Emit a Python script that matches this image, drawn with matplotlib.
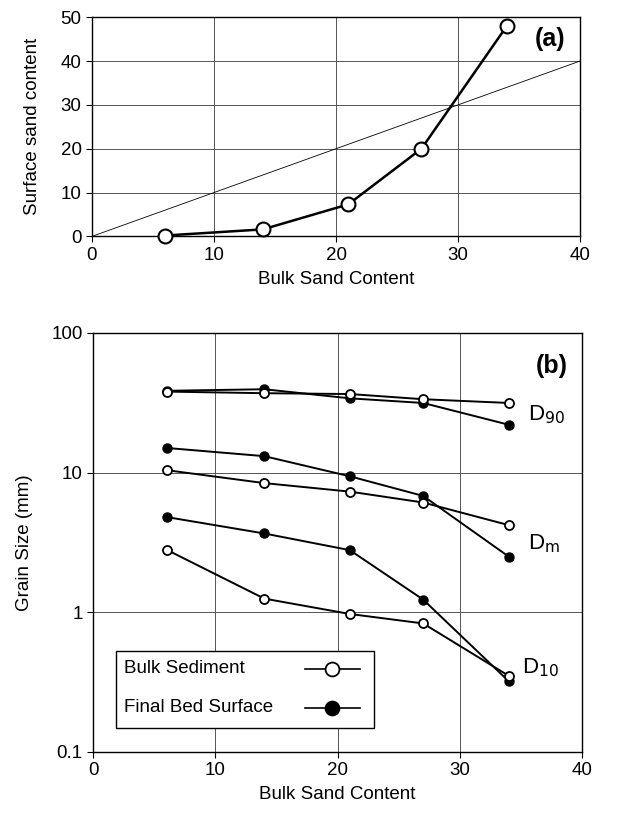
import numpy as np
import matplotlib
matplotlib.use('Agg')
import matplotlib.pyplot as plt
from matplotlib.patches import Rectangle

plt.rcParams['font.family'] = ['Liberation Sans', 'DejaVu Sans']
plt.rcParams['font.size'] = 13.5

# data
bulk_sand = [6, 14, 21, 27, 34]
surface_sand = [0.2, 1.6, 7.3, 20, 48]

d90_bulk = [38.0, 37.0, 36.5, 33.5, 31.5]
d90_surf = [38.5, 39.5, 34.0, 31.5, 22.0]
dm_bulk = [10.4, 8.4, 7.3, 6.1, 4.2]
dm_surf = [15.0, 13.1, 9.4, 6.8, 2.5]
d10_bulk = [2.8, 1.25, 0.97, 0.83, 0.35]
d10_surf = [4.8, 3.66, 2.78, 1.23, 0.32]

legend_labels = ['Bulk Sediment', 'Final Bed Surface']
legend_faces = ['white', 'black']

fig = plt.figure(figsize=(6.34, 8.18), dpi=100)
ax1 = fig.add_axes([0.145, 0.711, 0.770, 0.268])
ax2 = fig.add_axes([0.147, 0.081, 0.771, 0.512])

grid_kw = dict(color='#555555', linewidth=0.7)

# panel (a)
ax1.plot([0, 40], [0, 40], color='black', linewidth=0.6, zorder=2)
ax1.plot(bulk_sand, surface_sand, color='black', linewidth=1.8, marker='o',
         markersize=10, markerfacecolor='white', markeredgecolor='black',
         markeredgewidth=1.5, zorder=3, clip_on=False)
ax1.set_xlim(0, 40)
ax1.set_ylim(0, 50)
ax1.set_xticks([0, 10, 20, 30, 40])
ax1.set_yticks([0, 10, 20, 30, 40, 50])
ax1.grid(True, **grid_kw)
ax1.set_xlabel('Bulk Sand Content', labelpad=5)
ax1.set_ylabel('Surface sand content', labelpad=14)
ax1.text(37.5, 45, '(a)', fontsize=18, fontweight='bold', ha='center', va='center')

# panel (b)
pairs = [(d90_bulk, d90_surf), (dm_bulk, dm_surf), (d10_bulk, d10_surf)]
for b, s in pairs:
    ax2.plot(bulk_sand, s, color='black', linewidth=1.4, marker='o', markersize=6.5,
             markerfacecolor='black', markeredgecolor='black', zorder=3)
    ax2.plot(bulk_sand, b, color='black', linewidth=1.4, marker='o', markersize=6.5,
             markerfacecolor='white', markeredgecolor='black', markeredgewidth=1.3,
             zorder=4)
ax2.set_yscale('log')
ax2.set_xlim(0, 40)
ax2.set_ylim(0.1, 100)
ax2.set_xticks([0, 10, 20, 30, 40])
ax2.set_yticks([0.1, 1, 10, 100])
ax2.set_yticklabels(['0.1', '1', '10', '100'])
ax2.yaxis.set_minor_locator(matplotlib.ticker.NullLocator())
ax2.grid(True, **grid_kw)
ax2.set_xlabel('Bulk Sand Content', labelpad=5)
ax2.set_ylabel('Grain Size (mm)', labelpad=13)
ax2.text(37.5, 58, '(b)', fontsize=18, fontweight='bold', ha='center', va='center')
ax2.text(35.6, 26, r'D$_{90}$', fontsize=16, ha='left', va='center')
ax2.text(35.6, 3.1, r'D$_\mathrm{m}$', fontsize=16, ha='left', va='center')
ax2.text(35.1, 0.4, r'D$_{10}$', fontsize=16, ha='left', va='center')

# legend box (labels left, markers right)
tr = ax2.transAxes
ax2.add_patch(Rectangle((0.047, 0.057), 0.527, 0.184, transform=tr, facecolor='white',
                        edgecolor='black', linewidth=1.0, zorder=6))
for lab, fc, yy in zip(legend_labels, legend_faces, [0.198, 0.105]):
    ax2.text(0.063, yy, lab, transform=tr, ha='left', va='center', zorder=7)
    ax2.plot([0.433, 0.545], [yy, yy], transform=tr, color='black', linewidth=1.2,
             zorder=7)
    ax2.plot([0.489], [yy], transform=tr, marker='o', markersize=10,
             markerfacecolor=fc, markeredgecolor='black', markeredgewidth=1.3,
             zorder=8)

for ax in (ax1, ax2):
    for sp in ax.spines.values():
        sp.set_linewidth(1.0)
    ax.tick_params(direction='out', length=4, width=0.8)

fig.savefig('out.png', dpi=100)
